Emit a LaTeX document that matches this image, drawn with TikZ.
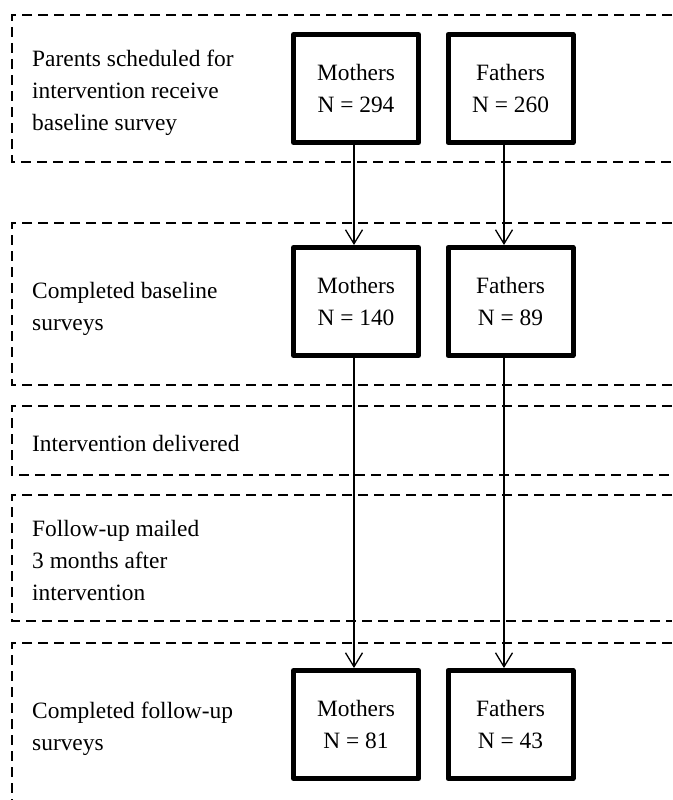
\documentclass[tikz,border=0pt]{standalone}
\usepackage{fontspec}
\setmainfont{Liberation Serif}
\usetikzlibrary{arrows.meta}
\newcommand\dfont{\fontsize{23.4}{32}\selectfont}
\tikzset{
  band/.style={line width=2pt, dash pattern=on 10pt off 6pt},
  nbox/.style={draw, line width=5pt, minimum width=125pt, minimum height=108pt,
    align=center, inner sep=0pt, line join=round, font=\dfont},
  lbl/.style={anchor=west, align=left, inner sep=0pt, font=\dfont},
  arr/.style={line width=1.3pt, -{Straight Barb[length=14pt,width=17pt]}}
}
\begin{document}
\begin{tikzpicture}[x=1pt,y=-1pt]
\useasboundingbox (0,0) rectangle (672,800);
% bands
\draw[band] (672,15) -- (12,15) -- (12,162) -- (672,162);
\draw[band] (672,223) -- (12,223) -- (12,385) -- (672,385);
\draw[band] (672,406) -- (12,406) -- (12,475) -- (672,475);
\draw[band] (672,495) -- (12,495) -- (12,621) -- (672,621);
\draw[band] (672,643) -- (12,643) -- (12,800);
% labels
\node[lbl] (l1) at (32,92.5) {Parents scheduled for\\intervention receive\\baseline survey};
\node[lbl] (l2) at (32,308.5) {Completed baseline\\surveys};
\node[lbl] (l3) at (32,443) {Intervention delivered};
\node[lbl] (l4) at (32,560) {Follow-up mailed\\3 months after\\intervention};
\node[lbl] (l5) at (32,728.5) {Completed follow-up\\surveys};
% boxes
\node[nbox] (m1) at (356,88.5) {Mothers\\N = 294};
\node[nbox] (f1) at (510.5,88.5) {Fathers\\N = 260};
\node[nbox] (m2) at (356,301.5) {Mothers\\N = 140};
\node[nbox] (f2) at (510.5,301.5) {Fathers\\N = 89};
\node[nbox] (m3) at (356,724.5) {Mothers\\N = 81};
\node[nbox] (f3) at (510.5,724.5) {Fathers\\N = 43};
% arrows
\draw[arr] ([xshift=-2pt]m1.south) -- ([xshift=-2pt]m2.north);
\draw[arr] ([xshift=-6.5pt]f1.south) -- ([xshift=-6.5pt]f2.north);
\draw[arr] ([xshift=-2pt]m2.south) -- ([xshift=-2pt]m3.north);
\draw[arr] ([xshift=-6.5pt]f2.south) -- ([xshift=-6.5pt]f3.north);
\end{tikzpicture}
\end{document}
